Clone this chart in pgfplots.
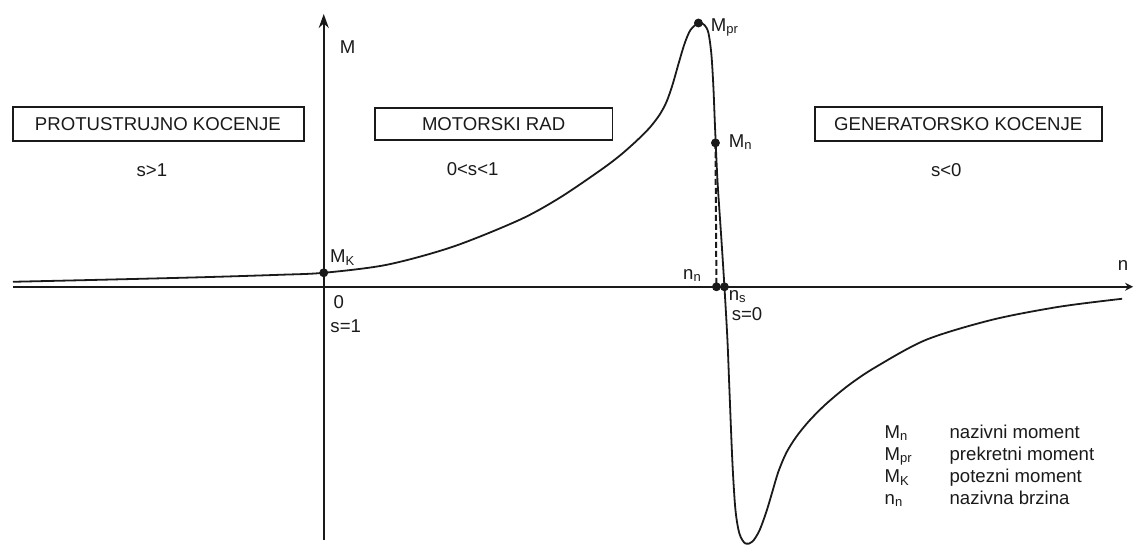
\documentclass[border=0pt]{standalone}
\usepackage{fontspec}
\setmainfont{Liberation Sans}
\usepackage{pgfplots}
\pgfplotsset{compat=1.18}
\usetikzlibrary{arrows.meta}
\definecolor{ink}{HTML}{1A1A1A}

\begin{document}
\begin{tikzpicture}[every node/.style={font=\fontsize{9.3}{11}\selectfont, text=ink, inner sep=0pt}]
\begin{axis}[
  scale only axis, width=567pt, height=273.5pt,
  xmin=0, xmax=1134, ymin=0, ymax=547, y dir=reverse,
  axis lines=none, clip=false]
  \path (axis cs:0,0) rectangle (axis cs:1134,547);
  % axes
  \draw[ink, line width=0.9pt, -{Stealth[length=7pt,width=5pt]}] (axis cs:324,540) -- (axis cs:324,14);
  \draw[ink, line width=0.9pt, -{Stealth[length=4pt,width=4pt]}] (axis cs:13,287) -- (axis cs:1134,287);
  % torque-speed characteristic
  \addplot[ink, line width=0.9pt, smooth, tension=0.5] coordinates {
    (13,282) (100,280) (200,277.5) (280,275) (324,273) (387,265) (453,247)
    (520,220) (560,198) (600,171) (620,156) (637,141) (650,128) (660,115)
    (667,102) (673,85) (679,64) (685,44) (691,30) (699,23) (705,25)
    (709,33) (712,55) (714,88) (715.5,125) (718,180) (722,240) (725,287)
    (728,340) (730,390) (733,463) (736,510) (740,534) (746,544) (753,542)
    (760,531) (767,512) (773,492) (779,472) (787,453) (797,437) (810,421)
    (827,404) (850,385) (877,367) (927,340) (993,320) (1060,307) (1123,299)};
  % rated torque drop line
  \addplot[ink, line width=1pt, dash pattern=on 3pt off 1.5pt] coordinates {(716,143) (717,287)};
  % marked points
  \addplot[only marks, mark=*, mark size=2pt, ink] coordinates {
    (324,273) (699,23) (716,143) (717,287) (725,287)};
  % region boxes
  \draw[ink, line width=0.9pt] (axis cs:13,107) rectangle (axis cs:304,141);
  \draw[ink, line width=0.9pt] (axis cs:375,108) rectangle (axis cs:613,140);
  \draw[ink, line width=0.9pt] (axis cs:816,107) rectangle (axis cs:1103,141);
  \node at (axis cs:158,124) {PROTUSTRUJNO KOCENJE};
  \node at (axis cs:494,124) {MOTORSKI RAD};
  \node at (axis cs:959,124) {GENERATORSKO KOCENJE};
  \node at (axis cs:152,170) {s>1};
  \node at (axis cs:473,169) {0<s<1};
  \node at (axis cs:947,170) {s<0};
  % axis and point labels
  \node at (axis cs:348,47) {M};
  \node at (axis cs:1124,266) {n};
  \node at (axis cs:339,302) {0};
  \node at (axis cs:346,326) {s=1};
  \node[anchor=west] at (axis cs:330,258) {M\textsubscript{K}};
  \node[anchor=west] at (axis cs:711,27) {M\textsubscript{pr}};
  \node[anchor=west] at (axis cs:729,142) {M\textsubscript{n}};
  \node at (axis cs:693,276) {n\textsubscript{n}};
  \node[anchor=west] at (axis cs:729,297) {n\textsubscript{s}};
  \node[anchor=west] at (axis cs:732,314) {s=0};
  % key
  \node[anchor=base west] at (axis cs:885,439) {M\textsubscript{n}};
  \node[anchor=base west] at (axis cs:885,461) {M\textsubscript{pr}};
  \node[anchor=base west] at (axis cs:885,483) {M\textsubscript{K}};
  \node[anchor=base west] at (axis cs:885,505) {n\textsubscript{n}};
  \node[anchor=base west] at (axis cs:950,439) {nazivni moment};
  \node[anchor=base west] at (axis cs:950,461) {prekretni moment};
  \node[anchor=base west] at (axis cs:950,483) {potezni moment};
  \node[anchor=base west] at (axis cs:950,505) {nazivna brzina};
\end{axis}
\end{tikzpicture}
\end{document}
